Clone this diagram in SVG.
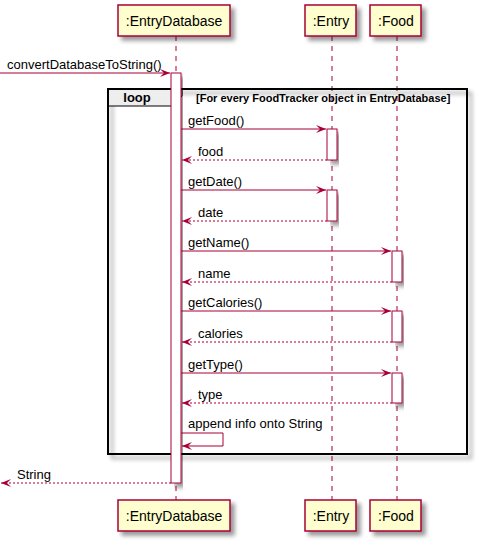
<svg xmlns="http://www.w3.org/2000/svg" width="478" height="545" viewBox="0 0 478 545">
<defs>
<filter id="sh" x="-10%" y="-10%" width="130%" height="150%">
<feGaussianBlur in="SourceAlpha" stdDeviation="2"/>
<feOffset dx="4" dy="4" result="b"/>
<feColorMatrix in="b" type="matrix" values="0 0 0 0 0  0 0 0 0 0  0 0 0 0 0  0 0 0 0.4 0"/>
<feMerge><feMergeNode/><feMergeNode in="SourceGraphic"/></feMerge>
</filter>
<marker id="ar" markerWidth="12" markerHeight="10" refX="10" refY="5" orient="auto" markerUnits="userSpaceOnUse">
<polygon points="0,1 10,5 0,9 4,5" fill="#A80036"/>
</marker>
</defs>
<style>
.pbox{fill:#FEFECE;stroke:#A80036;stroke-width:1.5}
.pt{font-family:"Liberation Sans",Arial,sans-serif;font-size:14px;fill:#000;text-anchor:middle}
.life{stroke:#A80036;stroke-width:1;stroke-dasharray:5,5}
.act{fill:#FFFFFF;stroke:#A80036;stroke-width:1}
.msg{stroke:#A80036;stroke-width:1;fill:none}
.ret{stroke:#A80036;stroke-width:1;fill:none;stroke-dasharray:2,2}
.mt{font-family:"Liberation Sans",Arial,sans-serif;font-size:13px;fill:#000}
.bt{font-family:"Liberation Sans",Arial,sans-serif;font-size:11px;font-weight:bold;fill:#000}
.lt{font-family:"Liberation Sans",Arial,sans-serif;font-size:13px;font-weight:bold;fill:#000;text-anchor:middle}
</style>
<g id="lifelines">
<line class="life" x1="176" y1="36" x2="176" y2="500"/>
<line class="life" x1="332" y1="36" x2="332" y2="500"/>
<line class="life" x1="397" y1="36" x2="397" y2="500"/>
</g>
<g id="loop">
<rect x="108" y="89" width="359" height="365" fill="none" stroke="#000" stroke-width="2" filter="url(#sh)"/>
<path d="M108,89 H182 V96 L172,106 H108 Z" fill="#EEEEEE" stroke="#000" stroke-width="1"/>
<rect x="108" y="89" width="359" height="365" fill="none" stroke="#000" stroke-width="2"/>
<text class="lt" x="137" y="102">loop</text>
<text class="bt" x="196" y="102">[For every FoodTracker object in EntryDatabase]</text>
</g>
<g id="activations">
<rect class="act" x="171" y="73" width="10" height="410" filter="url(#sh)"/>
<rect class="act" x="327" y="129" width="10" height="31" filter="url(#sh)"/>
<rect class="act" x="327" y="190" width="10" height="31" filter="url(#sh)"/>
<rect class="act" x="392" y="251" width="10" height="31" filter="url(#sh)"/>
<rect class="act" x="392" y="311" width="10" height="31" filter="url(#sh)"/>
<rect class="act" x="392" y="373" width="10" height="30" filter="url(#sh)"/>
</g>
<g id="EntryDatabase">
<rect class="pbox" x="118" y="5" width="112" height="31" filter="url(#sh)"/>
<text class="pt" x="174" y="26">:EntryDatabase</text>
<rect class="pbox" x="118" y="500" width="112" height="31" filter="url(#sh)"/>
<text class="pt" x="174" y="521">:EntryDatabase</text>
</g>
<g id="Entry">
<rect class="pbox" x="305" y="5" width="51" height="31" filter="url(#sh)"/>
<text class="pt" x="331" y="26">:Entry</text>
<rect class="pbox" x="305" y="500" width="51" height="31" filter="url(#sh)"/>
<text class="pt" x="331" y="521">:Entry</text>
</g>
<g id="Food">
<rect class="pbox" x="370" y="5" width="51" height="31" filter="url(#sh)"/>
<text class="pt" x="396" y="26">:Food</text>
<rect class="pbox" x="370" y="500" width="51" height="31" filter="url(#sh)"/>
<text class="pt" x="396" y="521">:Food</text>
</g>
<g id="connectors">
<line class="msg" x1="0" y1="73" x2="170" y2="73" marker-end="url(#ar)"/>
<text class="mt" x="7" y="69">convertDatabaseToString()</text>
<line class="msg" x1="181" y1="129" x2="326" y2="129" marker-end="url(#ar)"/>
<text class="mt" x="188" y="125">getFood()</text>
<line class="ret" x1="327" y1="160" x2="182" y2="160" marker-end="url(#ar)"/>
<text class="mt" x="198" y="156">food</text>
<line class="msg" x1="181" y1="190" x2="326" y2="190" marker-end="url(#ar)"/>
<text class="mt" x="188" y="186">getDate()</text>
<line class="ret" x1="327" y1="221" x2="182" y2="221" marker-end="url(#ar)"/>
<text class="mt" x="198" y="217">date</text>
<line class="msg" x1="181" y1="251" x2="391" y2="251" marker-end="url(#ar)"/>
<text class="mt" x="188" y="247">getName()</text>
<line class="ret" x1="392" y1="282" x2="182" y2="282" marker-end="url(#ar)"/>
<text class="mt" x="198" y="278">name</text>
<line class="msg" x1="181" y1="311" x2="391" y2="311" marker-end="url(#ar)"/>
<text class="mt" x="188" y="307">getCalories()</text>
<line class="ret" x1="392" y1="342" x2="182" y2="342" marker-end="url(#ar)"/>
<text class="mt" x="198" y="338">calories</text>
<line class="msg" x1="181" y1="373" x2="391" y2="373" marker-end="url(#ar)"/>
<text class="mt" x="188" y="369">getType()</text>
<line class="ret" x1="392" y1="403" x2="182" y2="403" marker-end="url(#ar)"/>
<text class="mt" x="198" y="399">type</text>
<polyline class="msg" points="181,433 223,433 223,446 182,446" marker-end="url(#ar)"/>
<text class="mt" x="188" y="428">append info onto String</text>
<line class="ret" x1="171" y1="483" x2="1" y2="483" marker-end="url(#ar)"/>
<text class="mt" x="17" y="479">String</text>
</g>
</svg>
